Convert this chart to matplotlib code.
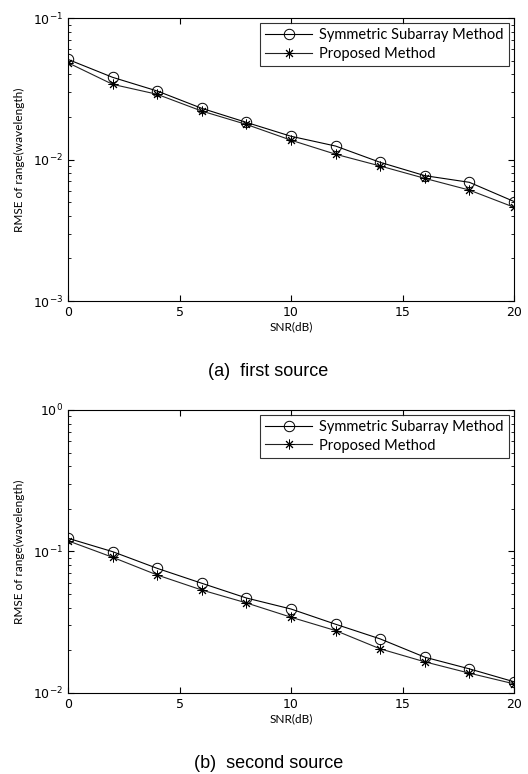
import matplotlib
matplotlib.use("Agg")
import matplotlib.pyplot as plt
import numpy as np

snr = [0, 2, 4, 6, 8, 10, 12, 14, 16, 18, 20]

# (a) first source
sym_a = [0.051, 0.0381, 0.0305, 0.0230, 0.0183, 0.0146, 0.01245, 0.00955, 0.00769, 0.0069, 0.00505]
prop_a = [0.0483, 0.0340, 0.0289, 0.0220, 0.0177, 0.0137, 0.0109, 0.0090, 0.00736, 0.00608, 0.0046]

# (b) second source
sym_b = [0.124, 0.0997, 0.0760, 0.0596, 0.0469, 0.0392, 0.0306, 0.0241, 0.0179, 0.0148, 0.0120]
prop_b = [0.119, 0.0910, 0.0682, 0.0534, 0.0433, 0.0343, 0.0276, 0.0205, 0.0166, 0.0138, 0.0116]

xticks = [0, 5, 10, 15, 20]
legend_labels = ["Symmetric Subarray Method", "Proposed Method"]
captions = ["(a)  first source", "(b)  second source"]

label_font = "Lato"
fig = plt.figure(figsize=(5.28, 7.74), dpi=100)

panels = [
    (sym_a, prop_a, (1e-3, 1e-1), [0.1288, 0.6111, 0.8447, 0.3656], 0.509),
    (sym_b, prop_b, (1e-2, 1e0), [0.1288, 0.1047, 0.8447, 0.3656], 0.003),
]

for i, (sym, prop, ylim, rect, cap_y) in enumerate(panels):
    ax = fig.add_axes(rect)
    ax.plot(snr, sym, color="black", lw=0.8, marker="o", ms=7.5,
            mfc="none", mec="black", mew=0.7, label=legend_labels[0])
    ax.plot(snr, prop, color="#222222", lw=0.8, marker=(8, 2, 0), ms=7,
            mec="black", mew=0.7, label=legend_labels[1])
    ax.set_yscale("log")
    ax.set_xlim(0, 20)
    ax.set_ylim(*ylim)
    ax.set_xticks(xticks)
    ax.tick_params(which="both", direction="in", top=True, right=True, labelsize=9)
    ax.tick_params(which="major", length=4)
    ax.tick_params(which="minor", length=2.5)
    for s in ax.spines.values():
        s.set_linewidth(0.8)
    ax.set_xlabel("SNR(dB)", fontsize=8.5, family=label_font, labelpad=2)
    ax.set_ylabel("RMSE of range(wavelength)", fontsize=8.5, family=label_font, labelpad=6)
    leg = ax.legend(loc="upper right", prop={"family": label_font, "size": 10.5},
                    frameon=True, fancybox=False, edgecolor="black", handlelength=3.2,
                    borderaxespad=0.35, borderpad=0.35, labelspacing=0.3, handletextpad=0.5)
    leg.get_frame().set_linewidth(0.8)
    fig.text(0.508, cap_y, captions[i], ha="center", va="bottom",
             fontsize=13, family="Liberation Sans")

fig.savefig("out.png", dpi=100)
